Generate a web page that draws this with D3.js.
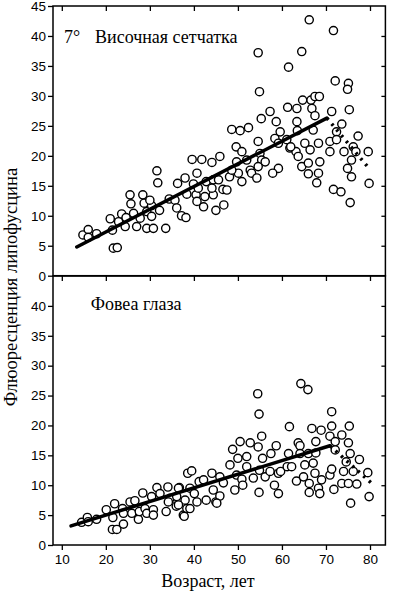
<!DOCTYPE html>
<html>
<head>
<meta charset="utf-8">
<script src="https://cdn.jsdelivr.net/npm/d3@7"></script>
<style>
body { margin: 0; background: #fff; }
</style>
</head>
<body>
<div id="chart"></div>
<script>
// ticks
const ageTicks = [10, 20, 30, 40, 50, 60, 70, 80];
const topValTicks = [0, 5, 10, 15, 20, 25, 30, 35, 40, 45];
const botValTicks = [0, 5, 10, 15, 20, 25, 30, 35, 40];
const rightTicks = [5, 10, 15, 20, 25, 30, 35, 40];

// 7° temporal retina
const topAge = [14.8, 16.0, 16.0, 17.9, 21.0, 21.5, 21.7, 22.6, 22.9, 23.6, 24.4, 24.6, 25.5, 25.7, 26.3, 27.0, 27.8, 28.4, 28.7, 29.3,
  29.3, 30.4, 30.4, 30.8, 31.6, 31.8, 32.2, 33.6, 34.4, 35.7, 36.1, 36.3, 37.2, 38.2, 38.0, 38.4, 39.6, 39.9, 40.7, 40.5,
  41.8, 44.1, 45.9, 42.5, 42.2, 42.8, 44.4, 44.4, 45.0, 45.6, 46.6, 48.1, 48.6, 50.5, 52.4, 49.6, 50.9, 49.7, 50.1, 50.9,
  52.0, 52.8, 53.1, 54.3, 54.6, 55.0, 55.4, 56.2, 54.6, 54.9, 55.3, 57.3, 58.7, 59.2, 57.9, 58.4, 59.6, 59.2, 61.5, 64.5,
  66.2, 71.7, 72.1, 75.1, 74.9, 75.3, 61.3, 63.4, 64.7, 66.6, 67.5, 68.5, 66.8, 67.5, 63.4, 63.5, 61.1, 61.8, 63.2, 63.7,
  64.5, 65.2, 66.4, 66.0, 66.0, 67.1, 68.3, 68.6, 68.3, 67.9, 70.9, 70.9, 71.3, 72.4, 72.4, 73.6, 74.1, 74.9, 75.8, 75.8,
  76.2, 76.8, 77.3, 79.6, 79.8, 71.7, 73.4, 75.5, 41.0, 44.1, 40.7, 46.8, 30.0, 62.0, 47.5, 54.6, 48.6];
const topVal = [6.8, 7.7, 6.4, 7.0, 9.5, 7.6, 4.6, 4.7, 9.0, 10.3, 8.2, 9.7, 13.5, 12.0, 10.4, 8.2, 9.6, 13.5, 12.1, 10.7,
  7.9, 11.7, 9.9, 7.9, 17.5, 15.5, 10.9, 7.9, 12.8, 12.6, 11.3, 15.4, 10.0, 9.7, 16.3, 13.6, 19.4, 15.3, 17.1, 13.5,
  19.4, 18.9, 19.9, 13.2, 11.5, 15.7, 16.0, 13.5, 10.9, 16.0, 14.4, 16.5, 24.4, 24.2, 24.7, 21.5, 20.7, 19.0, 17.1, 15.7,
  19.3, 17.6, 17.1, 16.3, 22.4, 20.4, 19.3, 19.0, 37.2, 30.7, 26.2, 27.4, 25.7, 17.9, 17.1, 22.9, 24.0, 22.1, 34.8, 37.4,
  42.7, 40.9, 32.5, 32.1, 31.1, 27.7, 28.1, 27.9, 29.3, 29.3, 29.9, 29.9, 27.9, 26.7, 25.7, 24.2, 22.7, 21.3, 20.7, 19.9,
  18.2, 22.1, 21.0, 18.8, 17.0, 24.3, 22.1, 19.0, 17.1, 15.5, 20.7, 22.4, 27.4, 24.0, 22.7, 25.3, 20.7, 17.9, 16.5, 19.3,
  21.5, 20.7, 23.3, 20.7, 15.4, 14.4, 14.0, 12.2, 14.6, 14.6, 12.4, 11.8, 12.6, 21.5, 14.3, 18.2, 17.6];

// fovea
const botAge = [14.5, 15.8, 16.0, 17.9, 20.1, 22.0, 21.6, 21.5, 22.5, 23.8, 24.0, 24.0, 25.5, 25.9, 26.6, 27.4, 27.6, 28.4, 28.9, 29.3,
  30.4, 30.8, 30.8, 31.6, 32.3, 33.7, 34.1, 34.6, 36.0, 36.7, 37.6, 38.0, 38.4, 38.6, 39.5, 39.1, 40.1, 40.7, 41.2, 39.1,
  42.2, 42.8, 44.1, 44.4, 45.0, 45.9, 46.7, 45.9, 48.2, 48.8, 49.3, 49.7, 50.0, 50.5, 50.9, 51.1, 52.0, 52.0, 52.8, 53.5,
  54.6, 54.5, 54.8, 55.4, 54.9, 54.8, 55.6, 56.2, 57.3, 57.5, 58.3, 58.7, 59.2, 59.2, 59.7, 61.2, 61.5, 61.7, 62.2, 63.3,
  63.7, 64.1, 64.3, 65.9, 64.1, 64.9, 65.2, 66.0, 66.2, 66.2, 66.8, 67.1, 67.5, 67.7, 67.7, 68.3, 68.6, 68.9, 69.0, 70.9,
  71.3, 71.3, 71.3, 70.9, 72.1, 72.1, 71.8, 73.6, 73.6, 74.0, 74.6, 75.1, 75.3, 75.5, 75.1, 75.6, 76.2, 77.0, 77.6, 79.5,
  79.8, 36.5, 36.1, 45.2, 36.5, 34.2, 37.8];
const botVal = [3.8, 4.6, 3.9, 4.3, 5.9, 6.9, 4.6, 2.6, 2.6, 6.1, 5.3, 3.5, 7.2, 5.3, 7.4, 4.3, 5.6, 8.7, 6.1, 5.3,
  8.1, 5.9, 5.0, 9.6, 8.6, 5.6, 9.7, 7.8, 6.5, 9.6, 5.0, 7.5, 6.1, 12.0, 12.4, 9.5, 8.6, 7.2, 10.6, 6.1,
  10.9, 7.5, 12.0, 9.2, 7.2, 11.4, 10.4, 8.2, 13.4, 16.0, 9.2, 11.7, 14.5, 17.3, 11.0, 10.0, 14.8, 13.1, 17.1, 11.2,
  16.4, 25.3, 21.9, 18.2, 12.5, 8.8, 14.5, 11.4, 12.3, 15.3, 10.0, 16.6, 8.6, 12.0, 12.3, 13.1, 15.3, 19.8, 13.1, 10.7,
  17.1, 16.6, 27.0, 26.0, 15.3, 11.4, 13.4, 15.3, 10.3, 8.8, 19.5, 13.7, 12.0, 15.4, 17.3, 9.5, 8.6, 19.2, 10.9, 11.7,
  12.7, 22.3, 19.9, 18.2, 17.3, 15.9, 9.3, 18.4, 10.3, 12.3, 13.9, 17.1, 19.9, 15.3, 10.3, 7.0, 12.3, 10.2, 14.3, 12.1,
  8.1, 9.5, 8.1, 7.0, 6.7, 7.2, 4.8];

// regression lines: solid part and dotted tail
const topFitAge = [13.4, 70.2];
const topFitVal = [4.8, 26.3];
const topTailAge = [70.2, 79.8];
const topTailVal = [26.3, 17.9];
const botFitAge = [12.1, 70.9];
const botFitVal = [3.2, 16.6];
const botTailAge = [70.9, 80.4];
const botTailVal = [16.6, 10.3];

const svgWidth = 394, svgHeight = 600;

const svg = d3.select("#chart").append("svg")
    .attr("width", svgWidth)
    .attr("height", svgHeight);

const x = d3.scaleLinear()
    .domain([8, 83.5])
    .range([53, 385.4]);

const [x0, x1] = x.range();

const styleAxis = g => {
    g.select(".domain").remove();
    g.selectAll(".tick line").attr("stroke", "#000").attr("stroke-width", 1.3);
    g.selectAll(".tick text")
        .attr("fill", "#000")
        .style("font-family", "'Liberation Sans', Arial, sans-serif")
        .style("font-size", "13.5px");
};

const panels = [
    { top: 6, bottom: 275.7, ticks: topValTicks, age: topAge, val: topVal,
      fitAge: topFitAge, fitVal: topFitVal, tailAge: topTailAge, tailVal: topTailVal },
    { top: 276, bottom: 545, ticks: botValTicks, age: botAge, val: botVal,
      fitAge: botFitAge, fitVal: botFitVal, tailAge: botTailAge, tailVal: botTailVal }
];

panels.forEach(p => {

    const y = d3.scaleLinear()
        .domain([0, 45])
        .range([p.bottom, p.top]);

    const g = svg.append("g").attr("class", "panel");

    // left axis with labels
    g.append("g")
        .attr("transform", `translate(${x0},0)`)
        .call(d3.axisLeft(y).tickValues(p.ticks).tickSize(5).tickPadding(2))
        .call(styleAxis);

    // right edge, inward ticks
    g.append("g")
        .attr("transform", `translate(${x1},0)`)
        .call(d3.axisLeft(y).tickValues(rightTicks).tickSize(4).tickFormat(""))
        .call(styleAxis);

    // top edge, inward ticks
    g.append("g")
        .attr("transform", `translate(0,${p.top})`)
        .call(d3.axisBottom(x).tickValues(ageTicks).tickSize(5).tickFormat(""))
        .call(styleAxis);

    g.append("rect")
        .attr("x", x0)
        .attr("y", p.top)
        .attr("width", x1 - x0)
        .attr("height", p.bottom - p.top)
        .attr("fill", "none")
        .attr("stroke", "#000")
        .attr("stroke-width", 1.5);

    const pts = p.age.map((a, i) => ({ age: a, val: p.val[i] }));

    g.selectAll("circle")
        .data(pts)
        .enter()
        .append("circle")
        .attr("cx", d => x(d.age))
        .attr("cy", d => y(d.val))
        .attr("r", 4.1)
        .attr("fill", "#fff")
        .attr("stroke", "#000")
        .attr("stroke-width", 1.4);

    const line = d3.line()
        .x(d => x(d[0]))
        .y(d => y(d[1]));

    g.append("path")
        .datum(p.fitAge.map((a, i) => [a, p.fitVal[i]]))
        .attr("d", line)
        .attr("fill", "none")
        .attr("stroke", "#000")
        .attr("stroke-width", 3.5)
        .attr("stroke-linecap", "round");

    g.append("path")
        .datum(p.tailAge.map((a, i) => [a, p.tailVal[i]]))
        .attr("d", line)
        .attr("fill", "none")
        .attr("stroke", "#000")
        .attr("stroke-width", 3.5)
        .attr("stroke-dasharray", "2.5,5");
});

// bottom x axis with labels
svg.append("g")
    .attr("transform", `translate(0,${panels[1].bottom})`)
    .call(d3.axisBottom(x).tickValues(ageTicks).tickSize(5).tickPadding(4))
    .call(styleAxis);

const serif = "'Liberation Serif', 'Times New Roman', serif";

svg.append("text")
    .attr("x", 64)
    .attr("y", 42.7)
    .style("font-family", serif)
    .style("font-size", "18px")
    .text("7°");

svg.append("text")
    .attr("x", 95)
    .attr("y", 42.7)
    .style("font-family", serif)
    .style("font-size", "18px")
    .text("Височная сетчатка");

svg.append("text")
    .attr("x", 90.7)
    .attr("y", 310)
    .style("font-family", serif)
    .style("font-size", "18px")
    .text("Фовеа глаза");

svg.append("text")
    .attr("x", 208)
    .attr("y", 586.5)
    .attr("text-anchor", "middle")
    .style("font-family", serif)
    .style("font-size", "18px")
    .text("Возраст, лет");

svg.append("text")
    .attr("transform", "translate(17,287) rotate(-90)")
    .attr("text-anchor", "middle")
    .style("font-family", serif)
    .style("font-size", "18.5px")
    .text("Флюоресценция липофусцина");
</script>
</body>
</html>
